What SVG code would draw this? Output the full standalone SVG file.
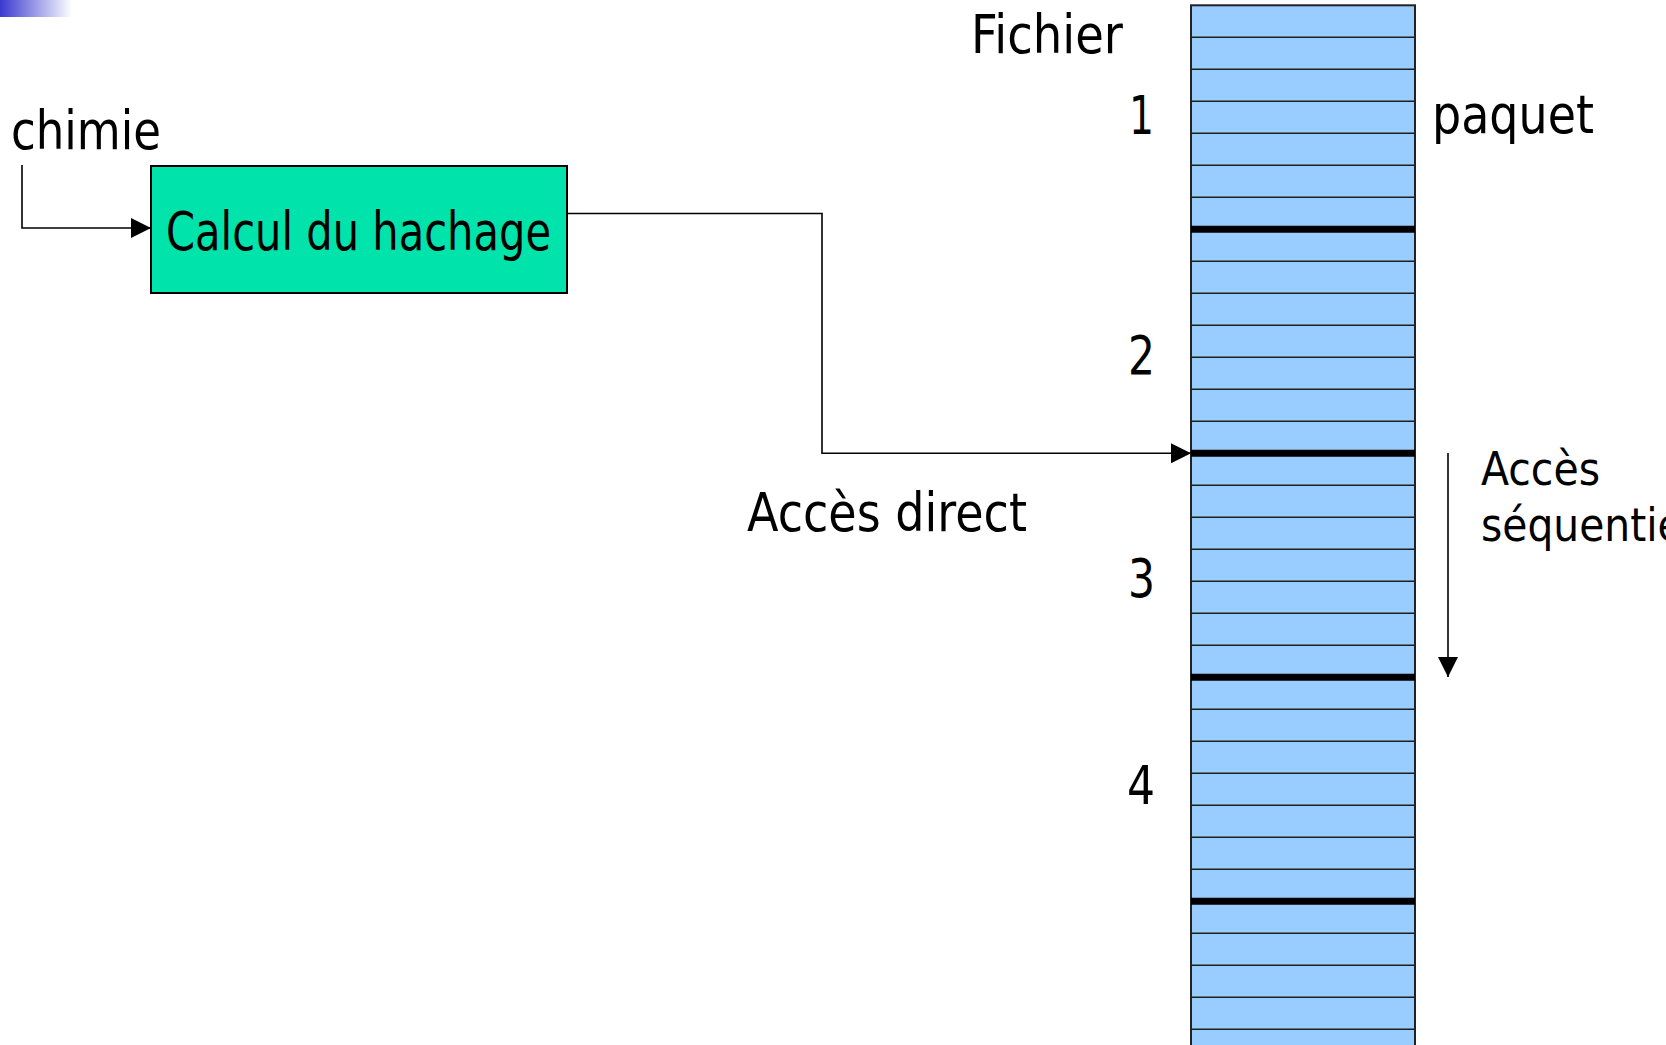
<svg xmlns="http://www.w3.org/2000/svg" width="1666" height="1045" viewBox="0 0 1666 1045">
  <defs>
    <linearGradient id="corner" x1="0" y1="0" x2="1" y2="0">
      <stop offset="0" stop-color="#3a3ad0"/>
      <stop offset="1" stop-color="#ffffff"/>
    </linearGradient>
    <marker id="arrow" viewBox="0 0 20 20" refX="20" refY="10" markerWidth="20" markerHeight="20" markerUnits="userSpaceOnUse" orient="auto">
      <path d="M0,0 L20,10 L0,20 Z" fill="#000"/>
    </marker>
  </defs>
  <style>
    text { font-family: "DejaVu Sans", "Liberation Sans", sans-serif; fill: #000; }
    .big { font-size: 53px; }
    .small { font-size: 46px; }
    .conn { fill: none; stroke: #000; stroke-width: 1.6; marker-end: url(#arrow); }
    .row { stroke: #1e1e1e; stroke-width: 1.6; }
    .sep { stroke: #000; stroke-width: 7; }
  </style>

  <rect width="1666" height="1045" fill="#ffffff"/>
  <!-- corner accent -->
  <rect x="0" y="0" width="72" height="17" fill="url(#corner)"/>

  <g id="input-label">
    <text class="big" x="11" y="149" textLength="150" lengthAdjust="spacingAndGlyphs">chimie</text>
  </g>

  <g id="hash-box">
    <rect x="151" y="166" width="416" height="127" fill="#00e3aa" stroke="#000" stroke-width="2"/>
    <text class="big" x="166" y="250" textLength="385" lengthAdjust="spacingAndGlyphs">Calcul du hachage</text>
  </g>

  <g id="file">
    <rect x="1191" y="5.3" width="224" height="1060" fill="#99ccff" stroke="#222" stroke-width="2"/>
    <g id="file-rows">
      <line class="row" x1="1191" x2="1415" y1="37.3" y2="37.3"/>
      <line class="row" x1="1191" x2="1415" y1="69.3" y2="69.3"/>
      <line class="row" x1="1191" x2="1415" y1="101.3" y2="101.3"/>
      <line class="row" x1="1191" x2="1415" y1="133.3" y2="133.3"/>
      <line class="row" x1="1191" x2="1415" y1="165.3" y2="165.3"/>
      <line class="row" x1="1191" x2="1415" y1="197.3" y2="197.3"/>
      <line class="sep" x1="1191" x2="1415" y1="229.3" y2="229.3"/>
      <line class="row" x1="1191" x2="1415" y1="261.3" y2="261.3"/>
      <line class="row" x1="1191" x2="1415" y1="293.3" y2="293.3"/>
      <line class="row" x1="1191" x2="1415" y1="325.3" y2="325.3"/>
      <line class="row" x1="1191" x2="1415" y1="357.3" y2="357.3"/>
      <line class="row" x1="1191" x2="1415" y1="389.3" y2="389.3"/>
      <line class="row" x1="1191" x2="1415" y1="421.3" y2="421.3"/>
      <line class="sep" x1="1191" x2="1415" y1="453.3" y2="453.3"/>
      <line class="row" x1="1191" x2="1415" y1="485.3" y2="485.3"/>
      <line class="row" x1="1191" x2="1415" y1="517.3" y2="517.3"/>
      <line class="row" x1="1191" x2="1415" y1="549.3" y2="549.3"/>
      <line class="row" x1="1191" x2="1415" y1="581.3" y2="581.3"/>
      <line class="row" x1="1191" x2="1415" y1="613.3" y2="613.3"/>
      <line class="row" x1="1191" x2="1415" y1="645.3" y2="645.3"/>
      <line class="sep" x1="1191" x2="1415" y1="677.3" y2="677.3"/>
      <line class="row" x1="1191" x2="1415" y1="709.3" y2="709.3"/>
      <line class="row" x1="1191" x2="1415" y1="741.3" y2="741.3"/>
      <line class="row" x1="1191" x2="1415" y1="773.3" y2="773.3"/>
      <line class="row" x1="1191" x2="1415" y1="805.3" y2="805.3"/>
      <line class="row" x1="1191" x2="1415" y1="837.3" y2="837.3"/>
      <line class="row" x1="1191" x2="1415" y1="869.3" y2="869.3"/>
      <line class="sep" x1="1191" x2="1415" y1="901.3" y2="901.3"/>
      <line class="row" x1="1191" x2="1415" y1="933.3" y2="933.3"/>
      <line class="row" x1="1191" x2="1415" y1="965.3" y2="965.3"/>
      <line class="row" x1="1191" x2="1415" y1="997.3" y2="997.3"/>
      <line class="row" x1="1191" x2="1415" y1="1029.3" y2="1029.3"/>
    </g>
    <text class="big" x="971" y="53" textLength="152" lengthAdjust="spacingAndGlyphs">Fichier</text>
    <text class="big" x="1432" y="133" textLength="162" lengthAdjust="spacingAndGlyphs">paquet</text>
    <text class="big" x="1129" y="134" textLength="25" lengthAdjust="spacingAndGlyphs">1</text>
    <text class="big" x="1128" y="374" textLength="27" lengthAdjust="spacingAndGlyphs">2</text>
    <text class="big" x="1128" y="597" textLength="27" lengthAdjust="spacingAndGlyphs">3</text>
    <text class="big" x="1127" y="804" textLength="28" lengthAdjust="spacingAndGlyphs">4</text>
  </g>

  <g id="labels">
    <text class="big" x="747" y="531" textLength="280" lengthAdjust="spacingAndGlyphs">Accès direct</text>
    <text class="small" x="1481" y="485" textLength="119" lengthAdjust="spacingAndGlyphs">Accès</text>
    <text class="small" x="1481" y="541" textLength="213" lengthAdjust="spacingAndGlyphs">séquentiel</text>
  </g>

  <g id="connectors">
    <path class="conn" d="M22,165 V228 H151"/>
    <path class="conn" d="M567,213.5 H822 V453.3 H1191"/>
    <path class="conn" d="M1448,453 V677"/>
  </g>
</svg>
